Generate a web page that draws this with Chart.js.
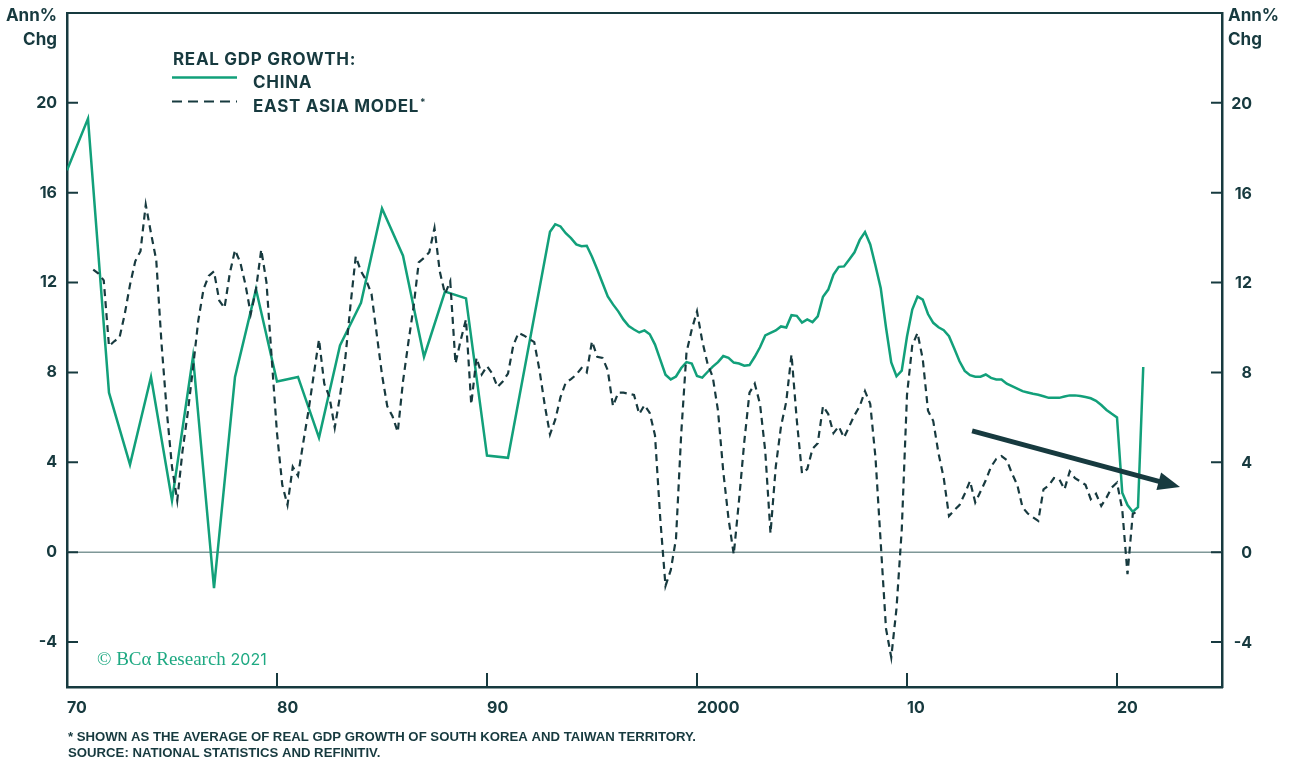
<!DOCTYPE html>
<html lang="en">
<head>
<meta charset="UTF-8" />
<title>Real GDP growth: China vs East Asia model</title>
<style>
  body { margin: 0; background: #fff; }
  #wrap { width: 1295px; height: 761px; }
</style>
</head>
<body>
<div id="wrap"><canvas id="chart" width="1295" height="761"></canvas></div>
<script src="https://cdn.jsdelivr.net/npm/chart.js"></script>
<script>
  // China: annual 1970-1991, then quarterly (quarter-end) from 1992Q4
  const chinaAnnualStart = 1970;
  const chinaAnnual = [17.0, 19.3, 7.1, 3.9, 7.8, 2.3, 8.7, -1.6, 7.8, 11.7, 7.6,
    7.8, 5.1, 9.2, 11.1, 15.3, 13.2, 8.7, 11.6, 11.3, 4.3, 4.2];

  const chinaQuarterlyStart = 1993;
  const chinaQuarterly = [
    14.26, 14.6, 14.5, 14.2, 13.98, 13.7, 13.62, 13.64, 13.15, 12.58,
    11.98, 11.38, 11.03, 10.72, 10.35, 10.07, 9.91, 9.78, 9.87, 9.70,
    9.24, 8.57, 7.9, 7.69, 7.82, 8.2, 8.46, 8.4, 7.84, 7.77,
    8.02, 8.26, 8.46, 8.73, 8.65, 8.44, 8.4, 8.3, 8.33, 8.7,
    9.12, 9.65, 9.76, 9.87, 10.05, 10.0, 10.55, 10.52, 10.22, 10.36,
    10.24, 10.5, 11.37, 11.69, 12.36, 12.7, 12.72, 13.03, 13.35, 13.9,
    14.25, 13.7, 12.75, 11.75, 10.0, 8.45, 7.83, 8.08, 9.6, 10.8,
    11.38, 11.24, 10.6, 10.21, 10.01, 9.88, 9.61, 9.07, 8.5, 8.07,
    7.88, 7.81, 7.81, 7.91, 7.76, 7.69, 7.69, 7.5, 7.39, 7.28,
    7.17, 7.11, 7.05, 7.01, 6.94, 6.87, 6.87, 6.87, 6.93, 6.98,
    6.98, 6.95, 6.91, 6.85, 6.74, 6.55, 6.33, 6.16, 6.0, 2.65,
    2.1, 1.8, 2.0, 8.24
  ];

  // East Asia model (avg of South Korea and Taiwan), quarterly from 1971Q1
  const eastAsiaStart = 1971.25;
  const eastAsiaQuarterly = [
    12.58, 12.4, 12.1, 9.17, 9.39, 9.55, 10.6, 11.9, 12.95, 13.4,
    15.47, 14.2, 13.0, 9.3, 6.3, 3.8, 2.3, 4.5, 6.2, 8.2,
    10.3, 11.7, 12.3, 12.5, 11.2, 10.87, 12.4, 13.45, 12.9, 11.9,
    10.6, 11.7, 13.47, 12.0, 8.6, 5.3, 3.0, 2.1, 3.8, 3.4,
    4.88, 6.3, 7.9, 9.47, 7.5, 6.9, 5.54, 6.95, 8.6, 11.0,
    13.17, 12.5, 12.1, 11.5, 9.7, 7.9, 6.5, 6.05, 5.35, 7.6,
    9.3, 10.9, 12.9, 13.1, 13.35, 14.43, 12.5, 11.5, 12.06, 8.4,
    9.45, 10.36, 6.58, 8.65, 7.91, 8.28, 7.95, 7.35, 7.6, 7.95,
    9.2, 9.76, 9.65, 9.5, 9.35, 8.1, 6.55, 5.24, 5.9, 6.9,
    7.55, 7.7, 7.9, 8.2, 8.0, 9.39, 8.7, 8.65, 8.1, 6.5,
    7.1, 7.1, 7.05, 7.0, 6.15, 6.55, 6.2, 5.2, 1.5, -1.5,
    -0.8, 0.6, 5.3, 8.9, 9.91, 10.72, 9.4, 8.4, 7.8, 6.3,
    3.6, 1.5, -0.1, 2.3, 4.9, 7.1, 7.5, 6.6, 4.5, 0.84,
    3.8, 5.6, 6.7, 8.8, 5.9, 3.51, 3.7, 4.6, 4.85, 6.5,
    6.15, 5.3, 5.6, 5.1, 5.6, 6.1, 6.5, 7.17, 6.6, 4.2,
    0.4, -3.4, -4.68, -2.5, 1.0, 7.0, 9.2, 9.76, 8.6, 6.3,
    5.84, 4.4, 3.3, 1.61, 1.87, 2.1, 2.6, 3.17, 2.21, 2.7,
    3.2, 3.8, 4.15, 4.28, 4.1, 3.5, 3.0, 2.0, 1.72, 1.55,
    1.39, 2.8, 2.97, 3.3, 3.25, 2.8, 3.6, 3.3, 3.15, 3.0,
    2.36, 2.6, 2.06, 2.43, 2.88, 3.1, 1.9, -0.98, 1.7, 1.84
  ];

  const xTickValues = [1970, 1980, 1990, 2000, 2010, 2020];
  const xTickLabels = ['70', '80', '90', '2000', '10', '20'];
  const yTickValues = [-4, 0, 4, 8, 12, 16, 20];

  // trend arrow, in data units [year, value]
  const trendFrom = [2013.1, 5.4];
  const trendTo = [2023.0, 2.9];

  const INK = '#173a3f';
  const GREEN = '#12a07a';
  const ZERO = '#7f9898';
  const FONT = 'Inter, Lato, sans-serif';

  const chinaPoints = chinaAnnual.map((v, i) => ({ x: chinaAnnualStart + i, y: v }))
    .concat(chinaQuarterly.map((v, i) => ({ x: chinaQuarterlyStart + i / 4, y: v })));
  const eastAsiaPoints = eastAsiaQuarterly.map((v, i) => ({ x: eastAsiaStart + i / 4, y: v }));

  function fixTicks(values) {
    return scale => { scale.ticks = values.map(v => ({ value: v })); };
  }
  function noPad(scale) {
    scale.paddingTop = 0;
    scale.paddingBottom = 0;
    scale.paddingLeft = 0;
    scale.paddingRight = 0;
  }

  const decor = {
    id: 'decor',
    beforeDatasetsDraw(chart) {
      const { ctx, chartArea: a, scales: { y } } = chart;
      const y0 = y.getPixelForValue(0);
      ctx.save();
      ctx.strokeStyle = ZERO;
      ctx.lineWidth = 1.5;
      ctx.beginPath();
      ctx.moveTo(a.left, y0);
      ctx.lineTo(a.right, y0);
      ctx.stroke();
      ctx.restore();
    },
    afterDatasetsDraw(chart) {
      const { ctx, scales: { x, y } } = chart;
      const x1 = x.getPixelForValue(trendFrom[0]), y1 = y.getPixelForValue(trendFrom[1]);
      const x2 = x.getPixelForValue(trendTo[0]), y2 = y.getPixelForValue(trendTo[1]);
      const ang = Math.atan2(y2 - y1, x2 - x1);
      const headLen = 22, headW = 9;
      const bx = x2 - headLen * Math.cos(ang), by = y2 - headLen * Math.sin(ang);
      ctx.save();
      ctx.strokeStyle = INK;
      ctx.fillStyle = INK;
      ctx.lineWidth = 5;
      ctx.beginPath();
      ctx.moveTo(x1, y1);
      ctx.lineTo(bx + 4 * Math.cos(ang), by + 4 * Math.sin(ang));
      ctx.stroke();
      ctx.beginPath();
      ctx.moveTo(x2, y2);
      ctx.lineTo(bx + headW * Math.sin(ang), by - headW * Math.cos(ang));
      ctx.lineTo(bx - headW * Math.sin(ang), by + headW * Math.cos(ang));
      ctx.closePath();
      ctx.fill();
      ctx.restore();
    },
    afterDraw(chart) {
      const { ctx, chartArea: a, scales: { x, y } } = chart;
      ctx.save();
      ctx.strokeStyle = INK;

      // top frame line
      ctx.lineWidth = 2;
      ctx.beginPath();
      ctx.moveTo(a.left, a.top);
      ctx.lineTo(a.right, a.top);
      ctx.stroke();

      // inside tick marks
      xTickValues.forEach(v => {
        const px = x.getPixelForValue(v);
        ctx.beginPath();
        ctx.moveTo(px, a.bottom);
        ctx.lineTo(px, a.bottom - 14);
        ctx.stroke();
      });
      yTickValues.concat([24]).forEach(v => {
        const py = y.getPixelForValue(v);
        ctx.beginPath();
        ctx.moveTo(a.left, py);
        ctx.lineTo(a.left + 11, py);
        ctx.moveTo(a.right, py);
        ctx.lineTo(a.right - 11, py);
        ctx.stroke();
      });

      // right-hand tick labels, right aligned
      ctx.fillStyle = INK;
      ctx.font = 'bold 16px ' + FONT;
      ctx.textAlign = 'right';
      ctx.textBaseline = 'middle';
      yTickValues.forEach(v => {
        ctx.fillText(String(v), a.right + 30, y.getPixelForValue(v) + 1);
      });

      // axis units
      ctx.font = 'bold 17px ' + FONT;
      ctx.textBaseline = 'alphabetic';
      ctx.textAlign = 'right';
      ctx.fillText('Ann%', 57, 21);
      ctx.fillText('Chg', 57, 45);
      ctx.textAlign = 'left';
      ctx.fillText('Ann%', 1228, 21);
      ctx.fillText('Chg', 1228, 45);

      // legend
      ctx.font = 'bold 17px ' + FONT;
      ctx.letterSpacing = '0.7px';
      ctx.fillText('REAL GDP GROWTH:', 173, 65);
      ctx.fillText('CHINA', 253, 88);
      ctx.fillText('EAST ASIA MODEL', 253, 112);
      const w = ctx.measureText('EAST ASIA MODEL').width;
      ctx.letterSpacing = '0px';
      ctx.font = 'bold 10px ' + FONT;
      ctx.fillText('*', 253 + w + 1, 106);

      ctx.lineWidth = 2.5;
      ctx.strokeStyle = GREEN;
      ctx.beginPath();
      ctx.moveTo(172, 77.5);
      ctx.lineTo(237, 77.5);
      ctx.stroke();
      ctx.strokeStyle = INK;
      ctx.lineWidth = 2.2;
      ctx.setLineDash([10, 6]);
      ctx.beginPath();
      ctx.moveTo(172, 101.5);
      ctx.lineTo(237, 101.5);
      ctx.stroke();
      ctx.setLineDash([]);

      // copyright
      ctx.fillStyle = '#1ea982';
      ctx.font = '19px "Liberation Serif", serif';
      const c1 = '\u00A9 BC\u03B1 Research ';
      ctx.fillText(c1, 97, 665);
      const cw = ctx.measureText(c1).width;
      ctx.font = '16px ' + FONT;
      ctx.fillText('2021', 97 + cw, 665);

      // footnotes (condensed to the original line length)
      ctx.fillStyle = INK;
      ctx.font = 'bold 12px "Liberation Sans", Arial, sans-serif';
      const f1 = '* SHOWN AS THE AVERAGE OF REAL GDP GROWTH OF SOUTH KOREA AND TAIWAN TERRITORY.';
      const f2 = 'SOURCE: NATIONAL STATISTICS AND REFINITIV.';
      const sx = 628 / ctx.measureText(f1).width;
      [[f1, 740.5], [f2, 756.5]].forEach(([t, by]) => {
        ctx.save();
        ctx.translate(68, by);
        ctx.scale(sx, 1);
        ctx.fillText(t, 0, 0);
        ctx.restore();
      });
      ctx.restore();
    }
  };

  function build() {
    Chart.defaults.font.family = FONT;
    Chart.defaults.color = INK;
    const tickFont = { size: 16, weight: 'bold' };
    const border = { display: true, color: INK, width: 2.5 };
    const grid = { display: false, drawTicks: false };

    new Chart(document.getElementById('chart'), {
      type: 'line',
      data: {
        datasets: [
          {
            label: 'EAST ASIA MODEL*',
            data: eastAsiaPoints,
            borderColor: INK,
            borderWidth: 2.2,
            borderDash: [7, 5],
            pointRadius: 0,
            tension: 0,
            fill: false
          },
          {
            label: 'CHINA',
            data: chinaPoints,
            borderColor: GREEN,
            borderWidth: 2.5,
            pointRadius: 0,
            tension: 0,
            fill: false
          }
        ]
      },
      options: {
        responsive: false,
        animation: false,
        devicePixelRatio: 1,
        layout: { padding: { top: 13, left: 0, right: 0, bottom: 0 } },
        plugins: {
          legend: { display: false },
          tooltip: { enabled: false }
        },
        scales: {
          x: {
            type: 'linear',
            min: 1970,
            max: 2025,
            grid: grid,
            border: border,
            afterBuildTicks: fixTicks(xTickValues),
            afterFit: s => { s.height = 74; noPad(s); },
            ticks: {
              font: tickFont,
              color: INK,
              padding: 12,
              align: 'start',
              maxRotation: 0,
              autoSkip: false,
              callback: v => xTickLabels[xTickValues.indexOf(v)]
            }
          },
          y: {
            type: 'linear',
            position: 'left',
            min: -6,
            max: 24,
            grid: grid,
            border: border,
            afterBuildTicks: fixTicks(yTickValues),
            afterFit: s => { s.width = 67; noPad(s); },
            ticks: { font: tickFont, color: INK, padding: 10 }
          },
          y2: {
            type: 'linear',
            position: 'right',
            min: -6,
            max: 24,
            grid: grid,
            border: border,
            afterBuildTicks: fixTicks(yTickValues),
            afterFit: s => { s.width = 73; noPad(s); },
            ticks: { display: false }
          }
        }
      },
      plugins: [decor]
    });
  }

  if (document.fonts && document.fonts.load) {
    Promise.all([
      document.fonts.load('bold 16px Inter'),
      document.fonts.load('16px Inter'),
      document.fonts.load('19px "Liberation Serif"'),
      document.fonts.load('bold 12px "Liberation Sans"')
    ]).then(build, build);
  } else {
    build();
  }
</script>
</body>
</html>
